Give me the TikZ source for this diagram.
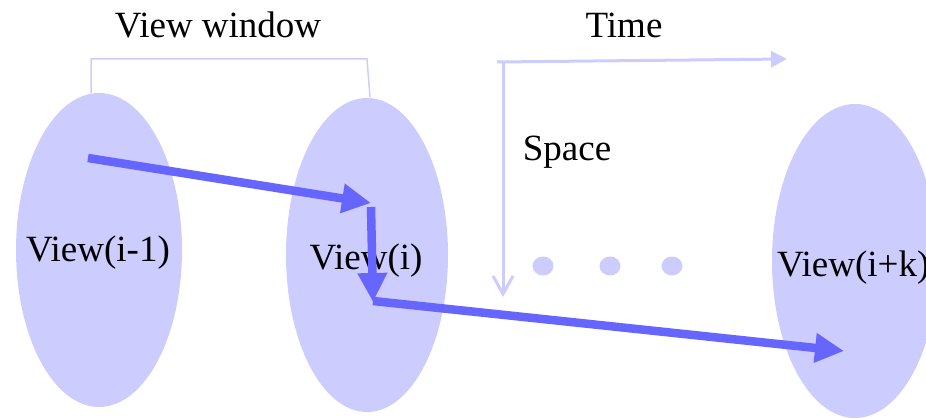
\documentclass[tikz,border=0pt]{standalone}
\usepackage{fontspec}
\setmainfont{Liberation Serif}
\usetikzlibrary{shapes.geometric,arrows.meta}
\definecolor{lav}{HTML}{CCCCFF}
\definecolor{flow}{HTML}{6666FF}
\tikzset{
  view/.style={ellipse,fill=lav,draw=none,inner sep=0pt},
  lbl/.style={font=\fontsize{37}{41}\selectfont,inner sep=0pt,text=black},
  flowarrow/.style={draw=flow,line width=8.5pt,-{Triangle[length=29pt,width=28pt]},shorten >=0pt},
  axis/.style={draw=lav,line width=3pt},
  dot/.style={ellipse,fill=lav,minimum width=21pt,minimum height=19pt,inner sep=0pt},
}
\begin{document}
\begin{tikzpicture}[x=1pt,y=-1pt]
\useasboundingbox (0,0) rectangle (926,419);
% ellipses
\node[view,minimum width=166pt,minimum height=314pt] (v1) at (99,250) {};
\node[view,minimum width=162pt,minimum height=314pt] (v2) at (367,255) {};
\node[view,minimum width=166pt,minimum height=314pt] (v3) at (855,261) {};
% bracket "View window"
\coordinate (b1) at (91,93);
\coordinate (b2) at (91,59);
\coordinate (b3) at (367,59);
\coordinate (b4) at (370,97);
\draw[lav,line width=1.5pt] (b1) -- (b2) -- (b3) -- (b4);
% axes
\coordinate (o) at (503,62);
\coordinate (tend) at (787,59);
\coordinate (send) at (503,297);
\coordinate (tstart) at (497,62);
\draw[axis,-{Triangle[length=16pt,width=16pt]}] (tstart) -- (tend);
\draw[axis,-{Straight Barb[length=18pt,width=20pt,line width=3pt]}] (o) -- (send);
% dots
\node[dot] (d1) at (543,266) {};
\node[dot] (d2) at (610,266) {};
\node[dot] (d3) at (672,266) {};
% labels
\node[lbl] (tw) at (218,25) {View window};
\node[lbl] (tt) at (624,25) {Time};
\node[lbl] (ts) at (567,152) {Space};
\node[lbl] (t1) at (98,253) {View(i-1)};
\node[lbl] (t2) at (366,261) {View(i)};
\node[lbl,anchor=west] (t3) at (777,268) {View(i+k)};
% flow arrows
\coordinate (p0) at (88,158);
\coordinate (p1) at (371,203);
\coordinate (p2) at (373,302);
\coordinate (p3) at (844,351);
\draw[flowarrow] (p0) -- (p1);
\draw[flowarrow] ([yshift=-4pt]p1) -- (p2);
\draw[flowarrow] ([yshift=1pt]p2) -- (p3);
\end{tikzpicture}
\end{document}
